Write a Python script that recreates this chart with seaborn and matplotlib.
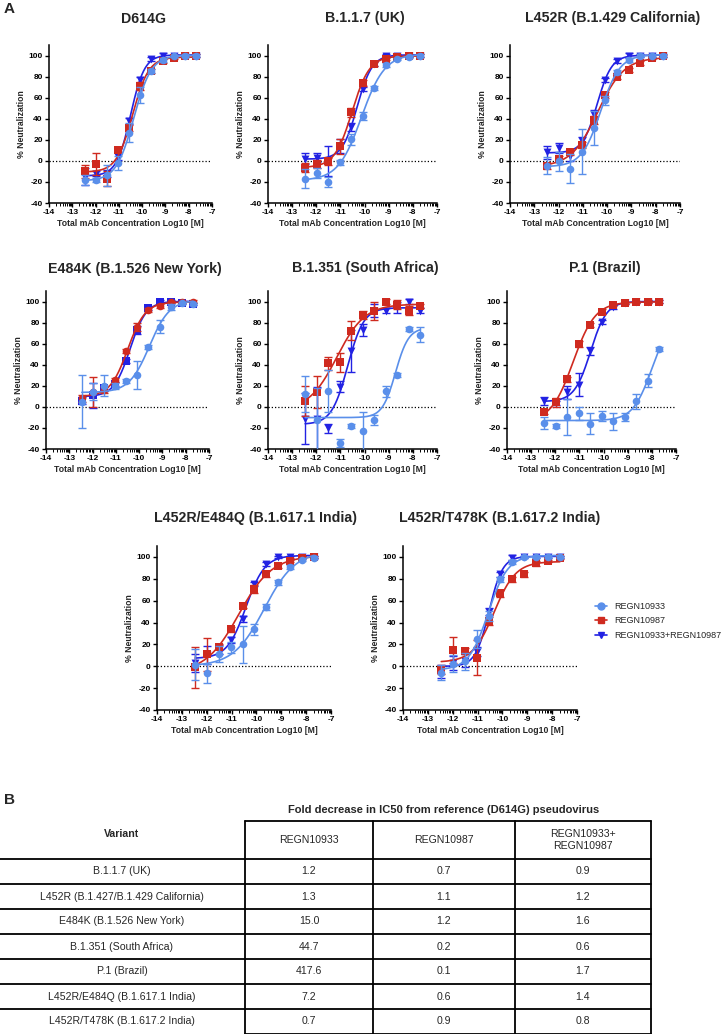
import numpy as np
import pandas as pd
import matplotlib
matplotlib.use("Agg")
import matplotlib.pyplot as plt
from matplotlib.lines import Line2D
from matplotlib.ticker import FixedLocator
import seaborn as sns

sns.set_theme(style="ticks")
plt.rcParams["font.family"] = ["Liberation Sans", "DejaVu Sans"]
plt.rcParams["axes.unicode_minus"] = False

# log10 [M] of the 3-fold dilution series (same in every panel)
log_conc = [-12.46, -11.98, -11.51, -11.03, -10.55, -10.08, -9.60, -9.12, -8.65, -8.17, -7.69]

series_names = ["REGN10933", "REGN10987", "REGN10933+REGN10987"]
panel_titles = ["D614G", "B.1.1.7 (UK)", "L452R (B.1.429 California)",
                "E484K (B.1.526 New York)", "B.1.351 (South Africa)", "P.1 (Brazil)",
                "L452R/E484Q (B.1.617.1 India)", "L452R/T478K (B.1.617.2 India)"]

# % neutralization (mean) and SD
d614g_r33 = [-18, -18, -13.5, -2, 26.5, 62.5, 85, 96, 99.5, 100, 100]
d614g_r33_sd = [5, 2, 10, 7, 9, 8, 2, 2, 1, 1, 1]
d614g_r87 = [-10, -3, -17, 10, 31, 71, 85, 95, 98, 99.7, 100]
d614g_r87_sd = [6, 10, 7, 2, 3, 4, 2, 2, 1, 1, 1]
d614g_combo = [-15, -12, -12, 4, 38, 77, 97, 100, 100, 100, 100]
d614g_combo_sd = [8, 2, 3, 3, 3, 3, 2, 2, 1, 1, 1]

b117_r33 = [-16.8, -11.6, -20, -1.5, 20.4, 42.7, 69, 91, 97, 99, 100]
b117_r33_sd = [9, 5, 5, 2, 5, 4, 2, 2, 1, 1, 1]
b117_r87 = [-6.4, -3, -0.6, 13.7, 46, 74, 92, 97, 99, 99.7, 100]
b117_r87_sd = [4, 4, 3, 7, 4, 3, 2, 1, 1, 1, 1]
b117_combo = [2, 3, 0, 14, 32, 68, 92, 100, 100, 100, 100]
b117_combo_sd = [5, 4, 14, 7, 4, 2, 2, 1, 1, 1, 1]

b1429_r33 = [-4.4, -0.6, -7.4, 8.8, 30.9, 57.4, 84, 96, 100, 100, 100]
b1429_r33_sd = [8, 9, 14, 21, 16, 4, 2, 2, 1, 1, 1]
b1429_r87 = [-5, 1.5, 8, 15.3, 39, 62.4, 79.4, 86, 93, 97.6, 99.4]
b1429_r87_sd = [3, 3, 2, 3, 4, 3, 2, 2, 2, 1, 1]
b1429_combo = [8, 12.4, 4.4, 18.5, 44, 76.5, 94.7, 100, 100, 100, 100]
b1429_combo_sd = [6, 5, 5, 4, 4, 2, 2, 2, 1, 1, 1]

b1526_r33 = [4.8, 14.3, 20, 20, 24.8, 30, 57, 76, 95, 99, 98]
b1526_r33_sd = [25, 8, 10, 3, 2, 13.5, 2, 6, 3, 1, 1]
b1526_r87 = [8, 14, 16, 25.4, 53, 76, 92, 96, 99.4, 99.4, 100]
b1526_r87_sd = [3, 14, 3, 2, 2, 4, 2, 2, 1, 1, 1]
b1526_combo = [6, 11, 17.5, 22, 43.8, 73, 93.6, 100, 100, 99, 98]
b1526_combo_sd = [3, 12, 2, 2, 2, 4, 2, 1, 1, 1, 1]

b1351_r33 = [12.3, -12, 14.7, -34.4, -18, -22.7, -12.3, 14.7, 30, 74, 68.4]
b1351_r33_sd = [17, 30, 20, 4, 2, 18, 5, 5, 2, 2, 7]
b1351_r87 = [5.5, 14, 41.4, 42.3, 72.4, 87, 91, 100, 97, 91.4, 96]
b1351_r87_sd = [14, 15, 6, 9, 9, 4, 9, 2, 4, 4, 2]
b1351_combo = [-11.3, -11.3, -20.5, 19.3, 53, 73, 91.4, 91.4, 94.5, 100, 91.4]
b1351_combo_sd = [24, 30, 4, 5, 20, 6, 6, 2, 5, 2, 2]

p1_r33 = [-15.3, -18.4, -9.8, -6, -16, -8.6, -13.8, -9.8, 5.2, 25, 55]
p1_r33_sd = [6, 2, 17, 6, 10, 5, 8, 4, 7, 6, 2]
p1_r87 = [-5.2, 4.3, 26, 60, 78, 90.5, 96.6, 98.8, 99.7, 100, 100]
p1_r87_sd = [2, 4, 2, 3, 2, 2, 1, 1, 1, 1, 1]
p1_combo = [5.5, 3.7, 13.8, 20.9, 52.8, 80.4, 95, 98.8, 99.7, 100, 100]
p1_combo_sd = [4, 2, 6, 11, 4, 2, 2, 1, 1, 1, 1]

b16171_r33 = [1.5, -6.6, 11.3, 17.3, 20, 33.7, 54.3, 76.7, 91, 97, 99.4]
b16171_r33_sd = [14, 9, 7, 5, 17, 5, 3, 2, 2, 1, 1]
b16171_r87 = [-1, 11, 18, 33.7, 55, 70.7, 84.5, 91.6, 96, 99.4, 100]
b16171_r87_sd = [19, 15, 2, 2, 2, 4, 3, 2, 1, 1, 1]
b16171_combo = [3, 10.4, 15, 24, 43.3, 75.2, 93.4, 100, 100, 100, 100]
b16171_combo_sd = [8, 8, 4, 3, 3, 2, 2, 1, 1, 1, 1]

b16172_r33 = [-6, 2.4, 4.5, 25, 46, 79.5, 95.5, 100, 100, 100, 100]
b16172_r33_sd = [7, 8, 8, 8, 5, 2, 2, 1, 1, 1, 1]
b16172_r87 = [-3, 15, 14, 8, 41.5, 66.8, 79.5, 84, 94, 96.4, 99.4]
b16172_r87_sd = [4, 12, 3, 16, 4, 3, 2, 2, 2, 1, 1]
b16172_combo = [-4.5, 3, 5, 13.4, 50, 84, 99.4, 100, 100, 100, 100]
b16172_combo_sd = [6, 6, 6, 4, 3, 2, 2, 1, 1, 1, 1]

panel_data = [
    (d614g_r33, d614g_r33_sd, d614g_r87, d614g_r87_sd, d614g_combo, d614g_combo_sd),
    (b117_r33, b117_r33_sd, b117_r87, b117_r87_sd, b117_combo, b117_combo_sd),
    (b1429_r33, b1429_r33_sd, b1429_r87, b1429_r87_sd, b1429_combo, b1429_combo_sd),
    (b1526_r33, b1526_r33_sd, b1526_r87, b1526_r87_sd, b1526_combo, b1526_combo_sd),
    (b1351_r33, b1351_r33_sd, b1351_r87, b1351_r87_sd, b1351_combo, b1351_combo_sd),
    (p1_r33, p1_r33_sd, p1_r87, p1_r87_sd, p1_combo, p1_combo_sd),
    (b16171_r33, b16171_r33_sd, b16171_r87, b16171_r87_sd, b16171_combo, b16171_combo_sd),
    (b16172_r33, b16172_r33_sd, b16172_r87, b16172_r87_sd, b16172_combo, b16172_combo_sd),
]

# table B: fold decrease in IC50 vs D614G
table_variants = ["B.1.1.7 (UK)", "L452R (B.1.427/B.1.429 California)", "E484K (B.1.526 New York)",
                  "B.1.351 (South Africa)", "P.1 (Brazil)", "L452R/E484Q (B.1.617.1 India)",
                  "L452R/T478K (B.1.617.2 India)"]
fold_r33 = ["1.2", "1.3", "15.0", "44.7", "417.6", "7.2", "0.7"]
fold_r87 = ["0.7", "1.1", "1.2", "0.2", "0.1", "0.6", "0.9"]
fold_combo = ["0.9", "1.2", "1.6", "0.6", "1.7", "1.4", "0.8"]

records = []
for title, arrs in zip(panel_titles, panel_data):
    for k, name in enumerate(series_names):
        for x, y, sd in zip(log_conc, arrs[2 * k], arrs[2 * k + 1]):
            records.append({"panel": title, "series": name, "x": x, "y": y, "sd": sd})
df = pd.DataFrame(records)

colors = {"REGN10933": "#5A8FEA", "REGN10987": "#CF2A1F", "REGN10933+REGN10987": "#2222E3"}
markers = {"REGN10933": "o", "REGN10987": "s", "REGN10933+REGN10987": "v"}
msize = {"o": 30, "s": 26, "v": 32}
draw_order = ["REGN10933+REGN10987", "REGN10987", "REGN10933"]


def fit_curve(x, y):
    # 4-parameter logistic fit: grid over logIC50 / hill, linear LS for bottom/top
    x = np.asarray(x, float)
    y = np.asarray(y, float)
    c = np.arange(-13.5, -6.0, 0.01)[:, None, None]
    h = np.arange(0.4, 3.0, 0.05)[None, :, None]
    s = 1.0 / (1.0 + 10.0 ** ((c - x) * h))
    sm = s.mean(-1, keepdims=True)
    ym = y.mean()
    var = ((s - sm) ** 2).sum(-1, keepdims=True) + 1e-9
    slope = ((s - sm) * (y - ym)).sum(-1, keepdims=True) / var
    icpt = ym - slope * sm
    sse = ((icpt + slope * s - y) ** 2).sum(-1)
    i, j = np.unravel_index(np.argmin(sse), sse.shape)
    xs = np.linspace(x.min(), x.max(), 200)
    ss = 1.0 / (1.0 + 10.0 ** ((c[i, 0, 0] - xs) * h[0, j, 0]))
    return xs, icpt[i, j, 0] + slope[i, j, 0] * ss


W, H = 726, 1034
fig = plt.figure(figsize=(W / 100, H / 100), dpi=100)


def px_axes(x, y, w, h):
    return fig.add_axes([x / W, 1 - (y + h) / H, w / W, h / H])


boxes = [(49, 45, 163, 158), (268, 45, 169, 158), (510, 45, 170, 158),
         (46, 291, 163, 158), (268, 291, 169, 158), (507, 291, 169, 158),
         (157, 546, 174, 164), (403, 546, 174, 164)]
title_pos = [(143, 19), (365, 18), (613, 18), (135, 269), (365, 268), (605, 268),
             (255, 518), (500, 518)]

minor = [n + np.log10(k) for n in range(-14, -7) for k in range(2, 10)]

for title, box in zip(panel_titles, boxes):
    ax = px_axes(*box)
    sub = df[df.panel == title]
    ax.axhline(0, color="black", lw=0.9, ls=(0, (1, 1.6)), zorder=1)
    for z, name in enumerate(draw_order):
        s = sub[sub.series == name]
        col = colors[name]
        mk = markers[name]
        if title.startswith("E484K") and name != "REGN10933":
            mk = "o" if name == "REGN10987" else "s"
        ax.errorbar(s.x, s.y, yerr=s.sd, fmt="none", ecolor=col, elinewidth=1.0,
                    capsize=2.6, capthick=1.0, zorder=2 + z)
        xs, ys = fit_curve(s.x, s.y)
        sns.lineplot(x=xs, y=ys, color=col, lw=1.2, ax=ax, zorder=2 + z, estimator=None)
        sns.scatterplot(x=s.x, y=s.y, marker=mk, s=msize[mk], color=col, edgecolor=col,
                        linewidth=0, ax=ax, zorder=2.5 + z, legend=False)
    ax.set_xlim(-14, -7)
    ax.set_ylim(-40, 110)
    ax.set_xticks(range(-14, -6))
    ax.set_yticks(range(-40, 101, 20))
    ax.xaxis.set_minor_locator(FixedLocator(minor))
    sns.despine(ax=ax)
    for sp in ("left", "bottom"):
        ax.spines[sp].set_color("black")
        ax.spines[sp].set_linewidth(1.1)
    ax.tick_params(which="major", length=3, width=1, color="black", labelsize=6,
                   pad=1.5, labelcolor="black")
    ax.tick_params(axis="x", which="minor", length=1.8, width=0.7, color="black")
    ax.set_xlabel("Total mAb Concentration Log10 [M]", fontsize=6.2, fontweight="bold", labelpad=2)
    ax.set_ylabel("% Neutralization", fontsize=6.2, fontweight="bold", labelpad=2)
    for lab in ax.get_xticklabels() + ax.get_yticklabels():
        lab.set_fontweight("bold")

# overlay for titles, panel letters and the table (pixel coordinates)
ov = fig.add_axes([0, 0, 1, 1])
ov.set_xlim(0, W)
ov.set_ylim(H, 0)
ov.axis("off")
ov.patch.set_alpha(0)

for title, (tx, ty) in zip(panel_titles, title_pos):
    ov.text(tx, ty, title, ha="center", va="center", fontsize=10.2, fontweight="bold")
ov.text(4, 9, "A", ha="left", va="center", fontsize=11, fontweight="bold")
ov.text(4, 800, "B", ha="left", va="center", fontsize=11, fontweight="bold")

handles = [Line2D([0], [0], color=colors[n], marker=markers[n], markersize=5, lw=1.2)
           for n in series_names]
fig.legend(handles, series_names, loc="upper left", bbox_to_anchor=(595 / W, 1 - 602 / H),
           frameon=False, fontsize=6.5, handlelength=1.35, handletextpad=0.75,
           labelspacing=0.6, borderaxespad=0, borderpad=0)

# table
col_x = [245, 373, 515, 651]
top, head_bot, row_h = 821, 859, 25
n_rows = len(table_variants)
bottom = head_bot + row_h * n_rows
lw = 1.3
ov.text(444, 810, "Fold decrease in IC50 from reference (D614G) pseudovirus", ha="center",
        va="center", fontsize=8, fontweight="bold")
for cx in col_x:
    ov.plot([cx, cx], [top, bottom], color="black", lw=lw)
ov.plot([col_x[0], col_x[-1]], [top, top], color="black", lw=lw)
ov.plot([col_x[0], col_x[-1]], [bottom, bottom], color="black", lw=lw)
for r in range(n_rows):
    yl = head_bot + row_h * r
    ov.plot([0, col_x[-1]], [yl, yl], color="black", lw=lw)

ov.text(122, 834, "Variant", ha="center", va="center", fontsize=7.6, fontweight="bold")
ov.text(309, 840, "REGN10933", ha="center", va="center", fontsize=7.6)
ov.text(444, 840, "REGN10987", ha="center", va="center", fontsize=7.6)
ov.text(583, 840, "REGN10933+\nREGN10987", ha="center", va="center", fontsize=7.6,
        linespacing=1.3)
for r, (v, a, b, c) in enumerate(zip(table_variants, fold_r33, fold_r87, fold_combo)):
    yc = head_bot + row_h * (r + 0.5)
    ov.text(122, yc, v, ha="center", va="center", fontsize=7.6)
    ov.text(309, yc, a, ha="center", va="center", fontsize=7.6)
    ov.text(444, yc, b, ha="center", va="center", fontsize=7.6)
    ov.text(583, yc, c, ha="center", va="center", fontsize=7.6)

fig.savefig("out.png", dpi=100)
